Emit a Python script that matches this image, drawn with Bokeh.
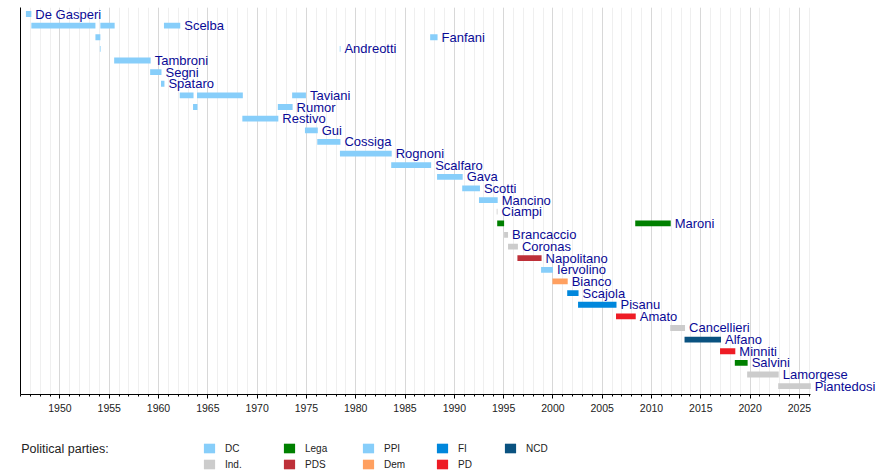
from bokeh.plotting import figure
from bokeh.models import (ColumnDataSource, Range1d, FixedTicker, SingleIntervalTicker,
                          Legend, LegendItem, Label)
from bokeh.layouts import column
from bokeh.core.properties import value
from bokeh.embed import file_html
from bokeh.resources import INLINE

# one row per minister, top to bottom
ministers = ["De Gasperi", "Scelba", "Fanfani", "Andreotti", "Tambroni", "Segni",
             "Spataro", "Taviani", "Rumor", "Restivo", "Gui", "Cossiga", "Rognoni",
             "Scalfaro", "Gava", "Scotti", "Mancino", "Ciampi", "Maroni", "Brancaccio",
             "Coronas", "Napolitano", "Iervolino", "Bianco", "Scajola", "Pisanu", "Amato",
             "Cancellieri", "Alfano", "Minniti", "Salvini", "Lamorgese", "Piantedosi"]

# terms in office (years as decimals)
bar_minister = ["De Gasperi", "Scelba", "Fanfani", "Andreotti", "Scelba", "Tambroni",
                "Segni", "Spataro", "Scelba", "Taviani", "Rumor", "Taviani", "Restivo",
                "Rumor", "Taviani", "Gui", "Cossiga", "Andreotti", "Rognoni", "Scalfaro",
                "Fanfani", "Gava", "Scotti", "Mancino", "Ciampi", "Maroni", "Brancaccio",
                "Coronas", "Napolitano", "Iervolino", "Bianco", "Scajola", "Pisanu", "Amato",
                "Maroni", "Cancellieri", "Alfano", "Minniti", "Salvini", "Lamorgese",
                "Piantedosi"]
bar_start = [1946.55, 1947.1, 1953.6, 1954.05, 1954.1, 1955.5,
             1959.15, 1960.25, 1960.55, 1962.15, 1963.5, 1963.9, 1968.5,
             1972.1, 1973.55, 1974.85, 1976.1, 1978.38, 1978.4, 1983.6,
             1987.55, 1988.25, 1990.8, 1992.5, 1994.3, 1994.35, 1995.05,
             1995.45, 1996.4, 1998.8, 1999.95, 2001.45, 2002.55, 2006.4,
             2008.35, 2011.9, 2013.35, 2016.95, 2018.45, 2019.7,
             2022.85]
bar_end = [1947.1, 1953.6, 1954.1, 1954.12, 1955.55, 1959.2,
           1960.3, 1960.6, 1962.2, 1963.55, 1963.95, 1968.55, 1972.15,
           1973.6, 1974.95, 1976.15, 1978.45, 1978.45, 1983.65, 1987.65,
           1988.3, 1990.85, 1992.6, 1994.4, 1994.38, 1995.05, 1995.45,
           1996.45, 1998.85, 2000.0, 2001.5, 2002.6, 2006.45, 2008.4,
           2011.95, 2013.4, 2017.05, 2018.5, 2019.75, 2022.9,
           2026.15]
bar_party = ["DC", "DC", "DC", "DC", "DC", "DC",
             "DC", "DC", "DC", "DC", "DC", "DC", "DC",
             "DC", "DC", "DC", "DC", "DC", "DC", "DC",
             "DC", "DC", "DC", "DC", "Ind.", "Lega", "Ind.",
             "Ind.", "PDS", "PPI", "Dem", "FI", "FI", "PD",
             "Lega", "Ind.", "NCD", "PD", "Lega", "Ind.",
             "Ind."]

party_names = ["DC", "Ind.", "Lega", "PDS", "PPI", "Dem", "FI", "PD", "NCD"]
party_colors = ["#87CEFA", "#CCCCCC", "#008000", "#BE3039", "#87CEFA",
                "#FFA060", "#0087DC", "#EE1C25", "#0A5280"]

year_start, year_end = 1946, 2026.15

bars = ColumnDataSource(dict(
    row=[ministers.index(n) for n in bar_minister],
    start=bar_start,
    end=bar_end,
    color=[party_colors[party_names.index(pt)] for pt in bar_party],
))

# name goes after the latest term
last_end = [max(e for n, e in zip(bar_minister, bar_end) if n == m) for m in ministers]
labels = ColumnDataSource(dict(x=last_end, row=list(range(len(ministers))), name=ministers))

p = figure(width=890, height=426, x_range=Range1d(year_start, 2034.24),
           y_range=Range1d(32.72, -0.559), output_backend="svg", toolbar_location=None,
           min_border_left=20, min_border_right=0, min_border_top=7, min_border_bottom=32,
           background_fill_color="white", border_fill_color="white")
p.outline_line_color = None

p.hbar(y="row", left="start", right="end", height=0.5, fill_color="color",
       line_color=None, source=bars)
p.text(x="x", y="row", text="name", source=labels, x_offset=4, text_align="left",
       text_baseline="middle", text_font=value("Liberation Sans"),
       text_font_size="13px", text_color="#0A0A96")

ticker = SingleIntervalTicker(interval=5, num_minor_ticks=5)
p.xaxis.ticker = ticker
p.xaxis.bounds = (year_start, year_end)
p.xaxis.axis_line_color = "black"
p.xaxis.major_tick_line_color = "black"
p.xaxis.minor_tick_line_color = "black"
p.xaxis.major_tick_in = 0
p.xaxis.major_tick_out = 4
p.xaxis.minor_tick_in = 0
p.xaxis.minor_tick_out = 2
p.xaxis.major_label_standoff = 5
p.xaxis.major_label_text_font = "Liberation Sans"
p.xaxis.major_label_text_font_size = "10.5px"
p.xaxis.major_label_text_color = "#222222"

p.yaxis.ticker = FixedTicker(ticks=[])
p.yaxis.major_tick_out = 0
p.yaxis.major_tick_in = 0
p.yaxis.minor_tick_out = 0
p.yaxis.major_label_text_font_size = "0px"
p.yaxis.major_label_standoff = 0
p.yaxis.axis_line_color = "black"

p.xgrid.grid_line_color = "#d8d8d8"
p.xgrid.minor_grid_line_color = "#efefef"
p.ygrid.grid_line_color = None

# legend strip under the chart; swatches come from the same bars (renderer hidden)
lf = figure(width=890, height=48, x_axis_type=None, y_axis_type=None,
            output_backend="svg", toolbar_location=None,
            min_border_left=20, min_border_right=0, min_border_top=0, min_border_bottom=0,
            background_fill_color="white", border_fill_color="white")
lf.outline_line_color = None
lf.grid.visible = False
swatch_r = lf.hbar(y="row", left="start", right="end", height=0.5, fill_color="color",
                   line_color=None, source=bars, visible=False)

legend_columns = [["DC", "Ind."], ["Lega", "PDS"], ["PPI", "Dem"], ["FI", "PD"], ["NCD"]]
column_x = [182, 262, 341, 415, 483]

for names, cx in zip(legend_columns, column_x):
    items = [LegendItem(label=n, renderers=[swatch_r], index=bar_party.index(n)) for n in names]
    leg = Legend(items=items, location=(cx, 4 + 16 * (2 - len(names))),
                 orientation="vertical",
                 glyph_width=14, glyph_height=12, label_height=12, label_width=10,
                 spacing=4, padding=0, margin=0, label_standoff=9,
                 border_line_color=None, background_fill_alpha=0,
                 inactive_fill_alpha=0,
                 label_text_font="Liberation Sans", label_text_font_size="10px",
                 label_text_color="#222222")
    lf.add_layout(leg)

lf.add_layout(Label(x=0.7, y=26, x_units="screen", y_units="screen",
                    text="Political parties:", text_font="Liberation Sans",
                    text_font_size="12.5px", text_baseline="alphabetic",
                    text_color="#222222"))

open("out.html", "w").write(file_html(column(p, lf), INLINE))
